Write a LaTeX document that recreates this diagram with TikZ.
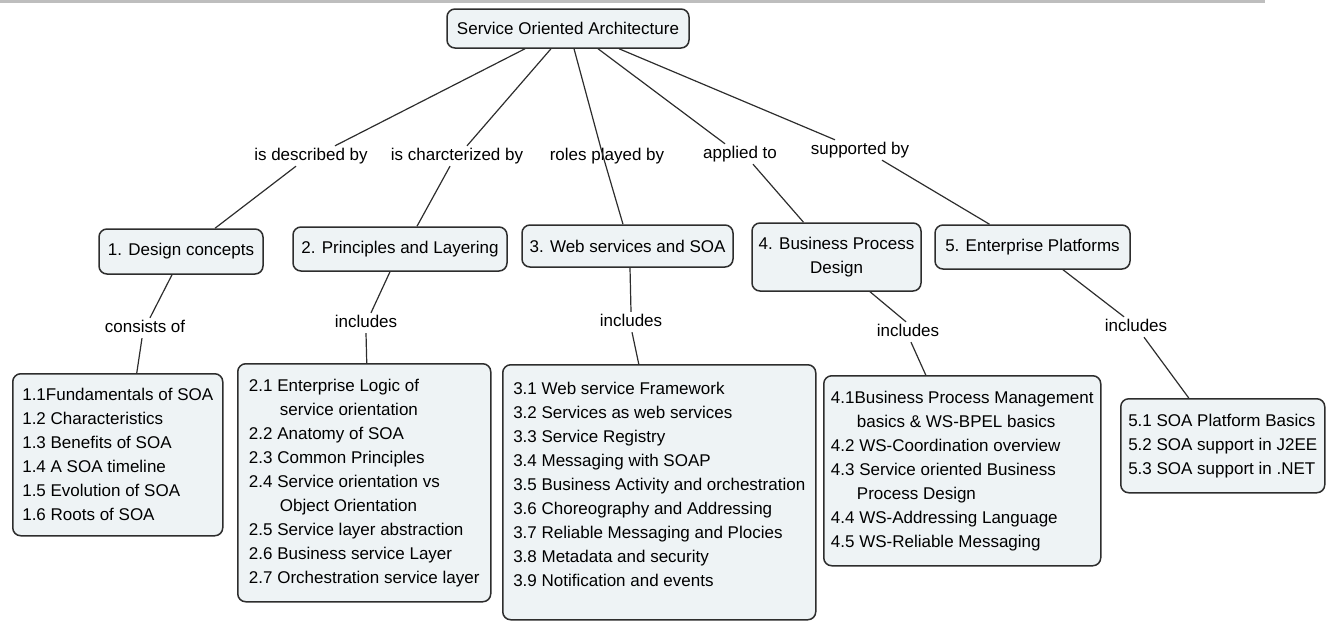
\documentclass[tikz,border=0pt]{standalone}
\usepackage{fontspec}
\setmainfont{Liberation Sans}
\definecolor{boxfill}{RGB}{238,243,245}
\definecolor{edge}{RGB}{45,45,45}
\definecolor{barcol}{RGB}{190,190,190}

\begin{document}
\begin{tikzpicture}[x=1pt,y=-1pt,
  concept/.style={draw=edge,line width=1.5pt,rounded corners=8pt,fill=boxfill,align=center,inner sep=2pt,font=\fontsize{17}{24}\selectfont},
  listbox/.style={concept,align=left,anchor=north west},
  linkname/.style={inner sep=2pt,text height=12pt,text depth=4pt,font=\fontsize{17}{24}\selectfont},
  link/.style={draw=edge,line width=1.2pt}]
\useasboundingbox (0,0) rectangle (1327,622);
\fill[barcol] (0,0) rectangle (1265,3);

\node[concept,minimum width=242pt,minimum height=39pt] (soa) at (568,28.5) {Service Oriented Architecture};

\node[linkname] (describedby) at (311,156) {is described by};
\node[linkname] (characterizedby) at (457,156) {is charcterized by};
\node[linkname] (rolesby) at (607,156) {roles played by};
\node[linkname] (appliedto) at (740,154) {applied to};
\node[linkname] (supportedby) at (860,150) {supported by};

\node[concept,minimum width=164pt,minimum height=45pt] (design) at (181,251.5) {1. Design concepts};
\node[concept,minimum width=214pt,minimum height=44pt] (principles) at (400,249) {2. Principles and Layering};
\node[concept,minimum width=211pt,minimum height=42pt] (webserv) at (627.5,246) {3. Web services and SOA};
\node[concept,minimum width=169pt,minimum height=68pt] (bpd) at (836.5,257) {4. Business Process\\Design};
\node[concept,minimum width=195pt,minimum height=44pt] (platforms) at (1032.5,247) {5. Enterprise Platforms};

\node[linkname] (consistsof) at (145,328) {consists of};
\node[linkname] (incprinciples) at (366,323) {includes};
\node[linkname] (incwebserv) at (631,322) {includes};
\node[linkname] (incbpd) at (908,332) {includes};
\node[linkname] (incplatforms) at (1136,327) {includes};

\node[listbox,minimum width=210pt,minimum height=162pt] (designlist) at (12,373) {1.1Fundamentals of SOA\\1.2 Characteristics\\1.3 Benefits of SOA\\1.4 A SOA timeline\\1.5 Evolution of SOA\\1.6 Roots of SOA};
\node[listbox,minimum width=253pt,minimum height=238pt] (principleslist) at (237,363) {2.1 Enterprise Logic of\\\hspace*{31pt}service orientation\\2.2 Anatomy of SOA\\2.3 Common Principles\\2.4 Service orientation vs\\\hspace*{31pt}Object Orientation\\2.5 Service layer abstraction\\2.6 Business service Layer\\2.7 Orchestration service layer};
\node[listbox,minimum width=313pt,minimum height=255pt] (webservlist) at (502,364) {3.1 Web service Framework\\3.2 Services as web services\\3.3 Service Registry\\3.4 Messaging with SOAP\\3.5 Business Activity and orchestration\\3.6 Choreography and Addressing\\3.7 Reliable Messaging and Plocies\\3.8 Metadata and security\\3.9 Notification and events\\[-8pt]\mbox{}};
\node[listbox,minimum width=277pt,minimum height=190pt] (bpdlist) at (823,375) {4.1Business Process Management\\\hspace*{26pt}basics \& WS-BPEL basics\\4.2 WS-Coordination overview\\4.3 Service oriented Business\\\hspace*{26pt}Process Design\\4.4 WS-Addressing Language\\4.5 WS-Reliable Messaging};
\node[listbox,minimum width=204pt,minimum height=94pt] (platformslist) at (1120,398) {5.1 SOA Platform Basics\\5.2 SOA support in J2EE\\5.3 SOA support in .NET};

\draw[link] ([xshift=-43]soa.south) -- ([xshift=24]describedby.north);
\draw[link] ([xshift=-15]describedby.south) -- ([xshift=34]design.north);
\draw[link] ([xshift=-17]soa.south) -- ([xshift=10]characterizedby.north);
\draw[link] ([xshift=-7]characterizedby.south) -- ([xshift=17]principles.north);
\draw[link] ([xshift=6]soa.south) -- ([xshift=-4]rolesby.center) -- ([xshift=-4.5]webserv.north);
\draw[link] ([xshift=30]soa.south) -- ([xshift=-15]appliedto.north);
\draw[link] ([xshift=13]appliedto.south) -- ([xshift=-33]bpd.north);
\draw[link] ([xshift=51]soa.south) -- ([xshift=-25]supportedby.north);
\draw[link] ([xshift=22]supportedby.south) -- ([xshift=-43]platforms.north);

\draw[link] ([xshift=-9]design.south) -- ([xshift=5]consistsof.north);
\draw[link] ([xshift=-3]consistsof.south) -- ([xshift=19]designlist.north);
\draw[link] ([xshift=-10]principles.south) -- ([xshift=5]incprinciples.north);
\draw[link] (incprinciples.south) -- ([xshift=2.5]principleslist.north);
\draw[link] ([xshift=2.5]webserv.south) -- (incwebserv.north);
\draw[link] ([xshift=1]incwebserv.south) -- ([xshift=-20.5]webservlist.north);
\draw[link] ([xshift=33.5]bpd.south) -- ([xshift=-2]incbpd.north);
\draw[link] ([xshift=3]incbpd.south) -- ([xshift=-36.5]bpdlist.north);
\draw[link] ([xshift=30.5]platforms.south) -- ([xshift=-12]incplatforms.north);
\draw[link] ([xshift=8]incplatforms.south) -- ([xshift=-34]platformslist.north);
\end{tikzpicture}
\end{document}
